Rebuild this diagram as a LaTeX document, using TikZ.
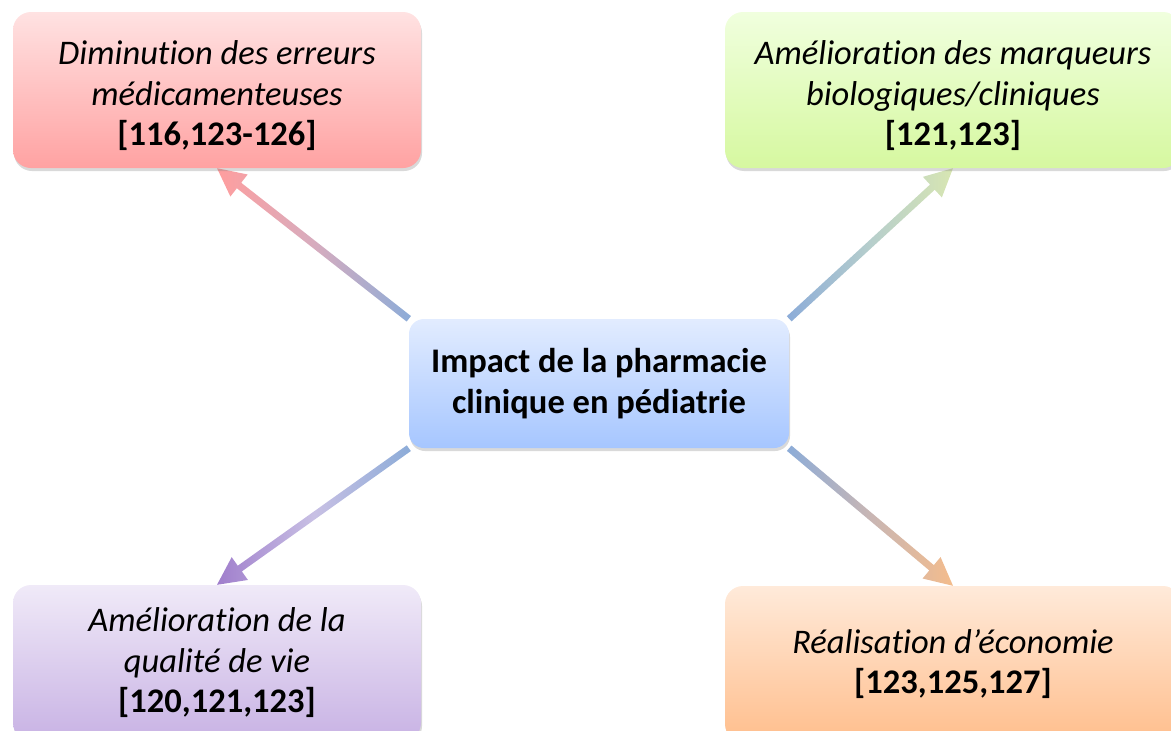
\documentclass[tikz,border=0pt]{standalone}
\usepackage{fontspec}
\setmainfont{Carlito}[Ligatures=NoCommon]
\usetikzlibrary{calc,shadows,backgrounds}
\definecolor{redtop}{RGB}{255,226,226}
\definecolor{redbot}{RGB}{255,162,162}
\definecolor{greentop}{RGB}{240,255,222}
\definecolor{greenbot}{RGB}{214,248,160}
\definecolor{purptop}{RGB}{240,234,248}
\definecolor{purpbot}{RGB}{200,178,228}
\definecolor{orgtop}{RGB}{255,234,218}
\definecolor{orgbot}{RGB}{255,190,140}
\definecolor{bluetop}{RGB}{226,236,255}
\definecolor{bluebot}{RGB}{166,198,255}
\definecolor{arrblue}{RGB}{140,172,216}
\definecolor{arrred}{RGB}{255,158,158}
\definecolor{midred}{RGB}{215,172,190}
\definecolor{arrgreen}{RGB}{216,230,178}
\definecolor{midgreen}{RGB}{182,206,204}
\definecolor{arrpurp}{RGB}{160,126,204}
\definecolor{midpurp}{RGB}{200,192,228}
\definecolor{arrorg}{RGB}{244,188,140}
\definecolor{midorg}{RGB}{200,182,180}
\tikzset{
  box/.style={rounded corners=18pt, minimum width=408pt, minimum height=156pt,
    inner sep=0pt, align=center, font=\fontsize{34.5}{40.5}\selectfont,
    drop shadow={opacity=0.3, shadow xshift=1pt, shadow yshift=-3pt}},
  ctrbox/.style={box, rounded corners=15pt, minimum width=380pt, minimum height=129pt,
    font=\fontsize{34.5}{40.5}\selectfont\bfseries, top color=bluetop, bottom color=bluebot}
}
\newcommand\gradarrowdraw[5]{%
  \coordinate (gB) at ($(#2)!28pt!(#1)$);
  \shade[left color=#3, right color=#5, middle color=#4]
    ($(#1)!3.5pt!90:(#2)$) -- ($(gB)!3.5pt!-90:(#1)$) -- ($(gB)!14pt!-90:(#1)$) --
    (#2) -- ($(gB)!14pt!90:(#1)$) -- ($(gB)!3.5pt!90:(#1)$) --
    ($(#1)!3.5pt!-90:(#2)$) -- cycle;
}
\newcommand\topstrut{\rule{0pt}{36pt}}
\begin{document}
\begin{tikzpicture}[x=1pt,y=-1pt]
\useasboundingbox (0,0) rectangle (1171,731);
\clip (0,0) rectangle (1171,731);
\node[box, top color=redtop, bottom color=redbot] (tl) at (217,90)
  {\topstrut\itshape Diminution des erreurs\\ \itshape médicamenteuses\\ \textbf{[116,123-126]}};
\node[box, minimum width=456pt, top color=greentop, bottom color=greenbot] (tr) at (953,90)
  {\topstrut\itshape Amélioration des marqueurs\\ \itshape biologiques/cliniques\\ \textbf{[121,123]}};
\node[box, top color=purptop, bottom color=purpbot] (bl) at (217,663)
  {\itshape Amélioration de la\\ \itshape qualité de vie\\ \textbf{[120,121,123]}};
\node[box, minimum width=456pt, top color=orgtop, bottom color=orgbot] (br) at (953,664)
  {\itshape Réalisation d’économie\\ \textbf{[123,125,127]}};
\node[ctrbox] (ctr) at (599,383.5)
  {Impact de la pharmacie\\ clinique en pédiatrie};
\begin{pgfonlayer}{background}
  \gradarrowdraw{ctr.north west}{tl.south}{arrred}{midred}{arrblue}
  \gradarrowdraw{ctr.north east}{tr.south}{arrblue}{midgreen}{arrgreen}
  \gradarrowdraw{ctr.south west}{bl.north}{arrpurp}{midpurp}{arrblue}
  \gradarrowdraw{ctr.south east}{br.north}{arrblue}{midorg}{arrorg}
\end{pgfonlayer}
\end{tikzpicture}
\end{document}
